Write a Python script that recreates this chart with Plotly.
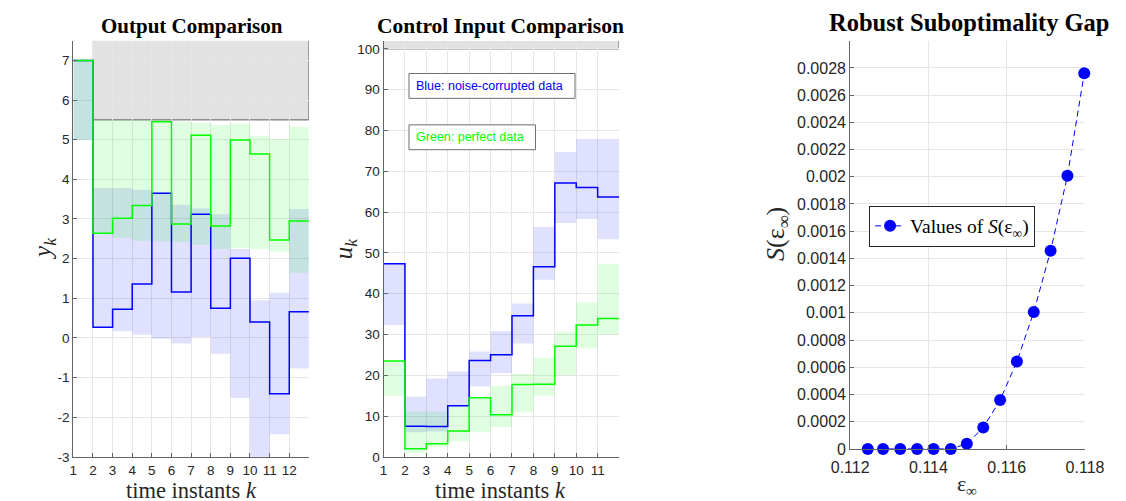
import plotly.graph_objects as go

W, H = 1126, 501

# ---------------- data ----------------
# Output comparison (left panel)
k_out = [1, 2, 3, 4, 5, 6, 7, 8, 9, 10, 11, 12]
y_noisy = [7.0, 0.27, 0.72, 1.36, 3.65, 1.16, 3.12, 0.75, 2.01, 0.40, -1.41, 0.66]
y_noisy_hi = [7.0, 3.78, 3.78, 3.74, 3.66, 3.36, 3.27, 3.12, 2.24, 0.95, 1.14, 3.25]
y_noisy_lo = [5.0, 0.26, 0.17, 0.08, -0.02, -0.14, 0.02, -0.40, -1.52, -3.30, -2.43, -0.77]
y_perfect = [7.0, 2.64, 3.02, 3.34, 5.45, 2.87, 5.11, 2.82, 4.99, 4.64, 2.47, 2.95]
y_perfect_hi = [7.0, 5.5, 5.5, 5.5, 5.5, 5.46, 5.42, 5.37, 5.40, 5.10, 5.02, 5.32]
y_perfect_lo = [5.0, 2.64, 2.52, 2.45, 2.43, 2.42, 2.35, 2.24, 2.27, 2.24, 2.18, 1.64]
y_ticks = [-3, -2, -1, 0, 1, 2, 3, 4, 5, 6, 7]
y_constraint = [5.5, 7.5]

# Control input comparison (middle panel)
k_in = [1, 2, 3, 4, 5, 6, 7, 8, 9, 10, 11]
u_noisy = [47.3, 7.5, 7.4, 12.5, 23.6, 25.0, 34.6, 46.6, 67.1, 66.0, 63.7]
u_noisy_hi = [47.3, 14.8, 19.2, 20.9, 25.8, 30.8, 37.6, 56.3, 74.7, 77.9, 77.9]
u_noisy_lo = [32.3, 6.0, 6.2, 12.4, 17.2, 20.5, 27.8, 43.4, 57.3, 58.3, 53.3]
u_perfect = [23.5, 2.0, 3.2, 6.3, 14.5, 10.3, 17.7, 17.8, 27.1, 32.3, 33.9]
u_perfect_hi = [23.5, 11.1, 11.1, 12.4, 14.5, 17.4, 20.3, 24.2, 30.6, 37.8, 47.3]
u_perfect_lo = [14.9, 1.0, 2.5, 3.8, 6.0, 7.3, 10.9, 15.0, 20.0, 26.6, 30.0]
u_ticks = [0, 10, 20, 30, 40, 50, 60, 70, 80, 90, 100]
u_constraint = [100, 102]

# Robust suboptimality gap (right panel)
eps_inf = [0.11245, 0.11284, 0.11328, 0.11371, 0.11413, 0.11457, 0.11498,
           0.11540, 0.11583, 0.11626, 0.11669, 0.11712, 0.11755, 0.11798]
S_vals = [0.0, 0.0, 0.0, 0.0, 0.0, 0.0, 0.000038,
          0.000157, 0.000359, 0.000643, 0.001006, 0.001456, 0.002007, 0.00276]
S_ticks = [0, 0.0002, 0.0004, 0.0006, 0.0008, 0.001, 0.0012, 0.0014,
           0.0016, 0.0018, 0.002, 0.0022, 0.0024, 0.0026, 0.0028]
S_ticktext = ["0", "0.0002", "0.0004", "0.0006", "0.0008", "0.001", "0.0012", "0.0014",
              "0.0016", "0.0018", "0.002", "0.0022", "0.0024", "0.0026", "0.0028"]
eps_ticks = [0.112, 0.114, 0.116, 0.118]
eps_ticktext = ["0.112", "0.114", "0.116", "0.118"]

# ---------------- styling ----------------
BLUE = 'rgb(0,0,255)'
GREEN = 'rgb(0,255,0)'
BLUE_FILL = 'rgba(0,0,255,0.12)'
GREEN_FILL = 'rgba(0,255,0,0.12)'
AXC = 'rgb(100,100,100)'
GRID = 'rgb(230,230,230)'
TXT = 'rgb(38,38,38)'
SANS = 'Liberation Sans, Arial, sans-serif'
SERIF = 'Liberation Serif, Times New Roman, serif'


def px(x):
    return x / W


def py(y):
    return 1 - y / H


def stairs(k, v):
    return list(k) + [k[-1] + 1], list(v) + [v[-1]]


fig = go.Figure()


def add_band(k, lo, hi, fill, xa, ya):
    xs, ylo = stairs(k, lo)
    _, yhi = stairs(k, hi)
    fig.add_trace(go.Scatter(x=xs, y=ylo, mode='lines', line=dict(width=0, shape='hv'),
                             hoverinfo='skip', showlegend=False, xaxis=xa, yaxis=ya))
    fig.add_trace(go.Scatter(x=xs, y=yhi, mode='lines', line=dict(width=0, shape='hv'),
                             fill='tonexty', fillcolor=fill, hoverinfo='skip',
                             showlegend=False, xaxis=xa, yaxis=ya))


def add_stairs(k, v, color, xa, ya):
    xs, ys = stairs(k, v)
    fig.add_trace(go.Scatter(x=xs, y=ys, mode='lines', line=dict(color=color, width=1.5, shape='hv'),
                             showlegend=False, xaxis=xa, yaxis=ya))


# left panel
add_band(k_out, y_noisy_lo, y_noisy_hi, BLUE_FILL, 'x', 'y')
add_band(k_out, y_perfect_lo, y_perfect_hi, GREEN_FILL, 'x', 'y')
add_stairs(k_out, y_noisy, BLUE, 'x', 'y')
add_stairs(k_out, y_perfect, GREEN, 'x', 'y')

# middle panel
add_band(k_in, u_noisy_lo, u_noisy_hi, BLUE_FILL, 'x2', 'y2')
add_band(k_in, u_perfect_lo, u_perfect_hi, GREEN_FILL, 'x2', 'y2')
add_stairs(k_in, u_noisy, BLUE, 'x2', 'y2')
add_stairs(k_in, u_perfect, GREEN, 'x2', 'y2')

# right panel
fig.add_trace(go.Scatter(
    x=eps_inf, y=S_vals, mode='lines+markers',
    name='Values of <i>S</i>(ε<sub>∞</sub>)',
    line=dict(color=BLUE, width=1, dash='6px,4px'),
    marker=dict(size=12, color=BLUE, line=dict(width=0)),
    cliponaxis=False, xaxis='x3', yaxis='y3'))

# constraint boxes
x_out_end = k_out[-1] + 1
x_in_end = k_in[-1] + 1
shapes = [
    dict(type='rect', xref='x', yref='y', x0=k_out[1], x1=x_out_end, y0=y_constraint[0], y1=y_constraint[1],
         fillcolor='rgb(226,226,226)', line=dict(width=0), layer='below'),
    dict(type='line', xref='x', yref='y', x0=k_out[1], x1=x_out_end, y0=y_constraint[0], y1=y_constraint[0],
         line=dict(color='rgb(90,90,90)', width=1), layer='below'),
    dict(type='line', xref='x', yref='y', x0=x_out_end, x1=x_out_end, y0=y_constraint[0], y1=y_constraint[1],
         line=dict(color='rgb(90,90,90)', width=1), layer='below'),
    dict(type='rect', xref='x2', yref='y2', x0=k_in[0], x1=x_in_end, y0=u_constraint[0], y1=u_constraint[1],
         fillcolor='rgb(226,226,226)', line=dict(width=0), layer='below'),
    dict(type='line', xref='x2', yref='y2', x0=k_in[0], x1=x_in_end, y0=u_constraint[0], y1=u_constraint[0],
         line=dict(color='rgb(90,90,90)', width=1), layer='below'),
    dict(type='line', xref='x2', yref='y2', x0=x_in_end, x1=x_in_end, y0=u_constraint[0], y1=u_constraint[1],
         line=dict(color='rgb(90,90,90)', width=1), layer='below'),
    # text boxes in middle panel
    dict(type='rect', xref='paper', yref='paper', x0=px(395.7), x1=px(567.7), y0=py(92), y1=py(66.7),
         fillcolor='white', line=dict(color='rgb(110,110,110)', width=1)),
    dict(type='rect', xref='paper', yref='paper', x0=px(395.7), x1=px(526.7), y0=py(144.3), y1=py(119),
         fillcolor='white', line=dict(color='rgb(110,110,110)', width=1)),
]

annotations = [
    dict(text='<b>Output Comparison</b>', x=px(171), y=py(18), xref='paper', yref='paper',
         showarrow=False, xanchor='center', yanchor='middle', font=dict(family=SERIF, size=21, color='black')),
    dict(text='<b>Control Input Comparison</b>', x=px(491), y=py(18), xref='paper', yref='paper',
         showarrow=False, xanchor='center', yanchor='middle', font=dict(family=SERIF, size=21.5, color='black')),
    dict(text='<b>Robust Suboptimality Gap</b>', x=px(976), y=py(15), xref='paper', yref='paper',
         showarrow=False, xanchor='center', yanchor='middle', font=dict(family=SERIF, size=24.5, color='black')),
    dict(text='time instants <i>k</i>', x=px(170), y=py(491), xref='paper', yref='paper',
         showarrow=False, xanchor='center', yanchor='middle', font=dict(family=SERIF, size=22.5, color=TXT)),
    dict(text='time instants <i>k</i>', x=px(491), y=py(491), xref='paper', yref='paper',
         showarrow=False, xanchor='center', yanchor='middle', font=dict(family=SERIF, size=22.5, color=TXT)),
    dict(text='<i>y<sub>k</sub></i>', x=px(18), y=py(245), xref='paper', yref='paper', textangle=-90,
         showarrow=False, xanchor='center', yanchor='middle', font=dict(family=SERIF, size=25, color=TXT)),
    dict(text='<i>u<sub>k</sub></i>', x=px(330), y=py(245), xref='paper', yref='paper', textangle=-90,
         showarrow=False, xanchor='center', yanchor='middle', font=dict(family=SERIF, size=25, color=TXT)),
    dict(text='<i>S</i>(ε<sub>∞</sub>)', x=px(777), y=py(230), xref='paper', yref='paper', textangle=-90,
         showarrow=False, xanchor='center', yanchor='middle', font=dict(family=SERIF, size=26, color=TXT)),
    dict(text='ε<sub>∞</sub>', x=px(974), y=py(486), xref='paper', yref='paper',
         showarrow=False, xanchor='center', yanchor='middle', font=dict(family=SERIF, size=22, color=TXT)),
    dict(text='Blue: noise-corrupted data', x=px(401), y=py(79.3), xref='paper', yref='paper',
         showarrow=False, xanchor='left', yanchor='middle', font=dict(family=SANS, size=12.5, color=BLUE)),
    dict(text='Green: perfect data', x=px(401), y=py(131.6), xref='paper', yref='paper',
         showarrow=False, xanchor='left', yanchor='middle', font=dict(family=SANS, size=12.5, color=GREEN)),
]

axis_common = dict(showline=True, linecolor=AXC, linewidth=1, mirror=False,
                   ticks='inside', ticklen=4, tickcolor=AXC, tickwidth=1,
                   showgrid=True, gridcolor=GRID, gridwidth=1, zeroline=False,
                   tickfont=dict(family=SANS, size=13.5, color=TXT))
big_font = dict(family=SANS, size=16, color=TXT)

fig.update_layout(
    width=W, height=H, autosize=False,
    margin=dict(l=0, r=0, t=0, b=0),
    paper_bgcolor='white', plot_bgcolor='white',
    showlegend=True,
    legend=dict(x=px(872.3), y=py(201.3), xanchor='left', yanchor='top',
                bgcolor='white', bordercolor=TXT, borderwidth=1,
                font=dict(family=SERIF, size=19.5, color='black')),
    xaxis=dict(domain=[px(48), px(292)], range=[1, 13], tickvals=k_out,
               ticktext=[str(v) for v in k_out], anchor='y', ticklabelstandoff=1, **axis_common),
    yaxis=dict(domain=[py(457), py(33.2)], range=[-3, 7.5], tickvals=y_ticks,
               ticktext=[str(v) for v in y_ticks], anchor='x', **axis_common),
    xaxis2=dict(domain=[px(369.3), px(613.3)], range=[1, 12], tickvals=k_in,
                ticktext=[str(v) for v in k_in], anchor='y2', ticklabelstandoff=1, **axis_common),
    yaxis2=dict(domain=[py(457), py(33.3)], range=[0, 102], tickvals=u_ticks,
                ticktext=[str(v) for v in u_ticks], anchor='x2', **axis_common),
    xaxis3=dict(domain=[px(852.7), px(1096)], range=[0.112, 0.118], tickvals=eps_ticks,
                ticktext=eps_ticktext, anchor='y3', ticklabelstandoff=4,
                **{**axis_common, 'tickfont': big_font}),
    yaxis3=dict(domain=[py(449), py(33.3)], range=[0, 0.003], tickvals=S_ticks,
                ticktext=S_ticktext, anchor='x3',
                **{**axis_common, 'tickfont': big_font}),
    shapes=shapes,
    annotations=annotations,
)

fig.write_html("out.html")
